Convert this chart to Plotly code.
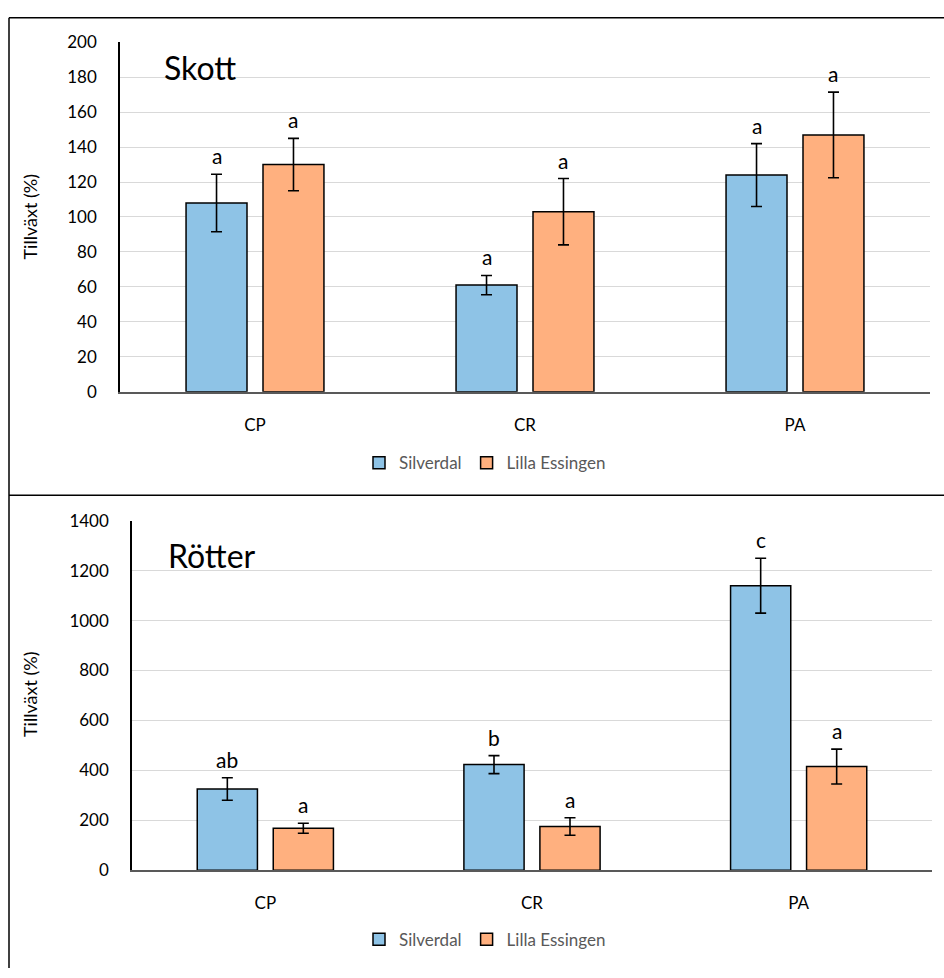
import plotly.graph_objects as go

# Categories and series
categories = ["CP", "CR", "PA"]
series_names = ["Silverdal", "Lilla Essingen"]

# Shoot growth (%)
skott_silverdal = [108, 61, 124]
skott_silverdal_err = [16.5, 5.5, 18]
skott_lilla = [130, 103, 147]
skott_lilla_err = [15, 19, 24.5]
skott_letters_silverdal = ["a", "a", "a"]
skott_letters_lilla = ["a", "a", "a"]

# Root growth (%)
rotter_silverdal = [325, 423, 1140]
rotter_silverdal_err = [45, 36, 110]
rotter_lilla = [168, 175, 415]
rotter_lilla_err = [20, 35, 70]
rotter_letters_silverdal = ["ab", "b", "c"]
rotter_letters_lilla = ["a", "a", "a"]

W, H = 944, 978
FONT = "Lato"
BLUE = "#8EC3E6"
ORANGE = "#FFB07F"
BARGAP = 0.43
GROUPGAP = 0.208


def py(pix):
    return 1 - pix / H


def px(pix):
    return pix / W


fig = go.Figure()

panels = [
    dict(x="x", y="y", legend="legend", data=(skott_silverdal, skott_silverdal_err, skott_lilla, skott_lilla_err),
         letters=(skott_letters_silverdal, skott_letters_lilla)),
    dict(x="x2", y="y2", legend="legend2", data=(rotter_silverdal, rotter_silverdal_err, rotter_lilla, rotter_lilla_err),
         letters=(rotter_letters_silverdal, rotter_letters_lilla)),
]

slot = (1 - BARGAP) / 2
offset = slot / 2

for p in panels:
    s_val, s_err, l_val, l_err = p["data"]
    for name, vals, errs, color, letters, sign in [
        (series_names[0], s_val, s_err, BLUE, p["letters"][0], -1),
        (series_names[1], l_val, l_err, ORANGE, p["letters"][1], 1),
    ]:
        fig.add_trace(go.Bar(
            x=categories, y=vals, name=name,
            xaxis=p["x"], yaxis=p["y"], legend=p["legend"],
            marker=dict(color=color, line=dict(color="black", width=1.5)),
            error_y=dict(type="data", array=errs, color="black", thickness=1.6, width=5.5),
        ))
        for i, (v, e, t) in enumerate(zip(vals, errs, letters)):
            fig.add_annotation(
                x=i + sign * offset, y=v + e, xref=p["x"], yref=p["y"],
                text=t, showarrow=False, yanchor="bottom", yshift=4,
                font=dict(family=FONT, size=21, color="black"),
            )

axis_common = dict(
    showgrid=False, showline=True, linecolor="#595959", linewidth=1.5,
    ticks="", tickfont=dict(family=FONT, size=17, color="black"),
    ticklabelstandoff=17, fixedrange=True,
)
yaxis_common = dict(
    showgrid=True, gridcolor="#D9D9D9", gridwidth=1.2, showline=True,
    linecolor="black", linewidth=1.5, ticks="", zeroline=False,
    tickfont=dict(family=FONT, size=17, color="black"), ticklabelstandoff=18,
    fixedrange=True,
)
legend_common = dict(
    orientation="h", x=px(485), xanchor="center", yanchor="middle",
    font=dict(family=FONT, size=17, color="#595959"), bgcolor="rgba(0,0,0,0)",
    itemwidth=30, tracegroupgap=0,
)

fig.update_layout(
    width=W, height=H, autosize=False,
    margin=dict(l=0, r=0, t=0, b=0),
    paper_bgcolor="white", plot_bgcolor="white",
    barmode="group", bargap=BARGAP, bargroupgap=GROUPGAP,
    font=dict(family=FONT),
    xaxis=dict(domain=[px(120), px(930)], anchor="y", **axis_common),
    yaxis=dict(domain=[py(389), py(32)], anchor="x", range=[0, 200], dtick=20, **yaxis_common),
    xaxis2=dict(domain=[px(132), px(932)], anchor="y2", **axis_common),
    yaxis2=dict(domain=[py(878), py(521)], anchor="x2", range=[0, 1400], dtick=200, **yaxis_common),
    legend=dict(y=py(462), **legend_common),
    legend2=dict(y=py(949), **legend_common),
    showlegend=True,
)

# Panel titles and y-axis titles
for text, x0, yc in [("Skott", 162, 58), ("Rötter", 166, 556)]:
    fig.add_annotation(x=px(x0), y=py(yc), xref="paper", yref="paper", text=text,
                       showarrow=False, xanchor="left", yanchor="middle",
                       font=dict(family=FONT, size=32, color="black"))
for yc in [210, 698]:
    fig.add_annotation(x=px(30), y=py(yc), xref="paper", yref="paper", text="Tillväxt (%)",
                       showarrow=False, textangle=-90, xanchor="center", yanchor="middle",
                       font=dict(family=FONT, size=18, color="black"))

# Panel frames
frame = dict(type="line", xref="paper", yref="paper", line=dict(color="black", width=1.5))
fig.add_shape(x0=px(9), x1=1, y0=py(7), y1=py(7), **frame)
fig.add_shape(x0=px(9), x1=1, y0=py(495), y1=py(495), **frame)
fig.add_shape(x0=px(9), x1=px(9), y0=py(7), y1=0, **frame)

fig.write_html("out.html")
